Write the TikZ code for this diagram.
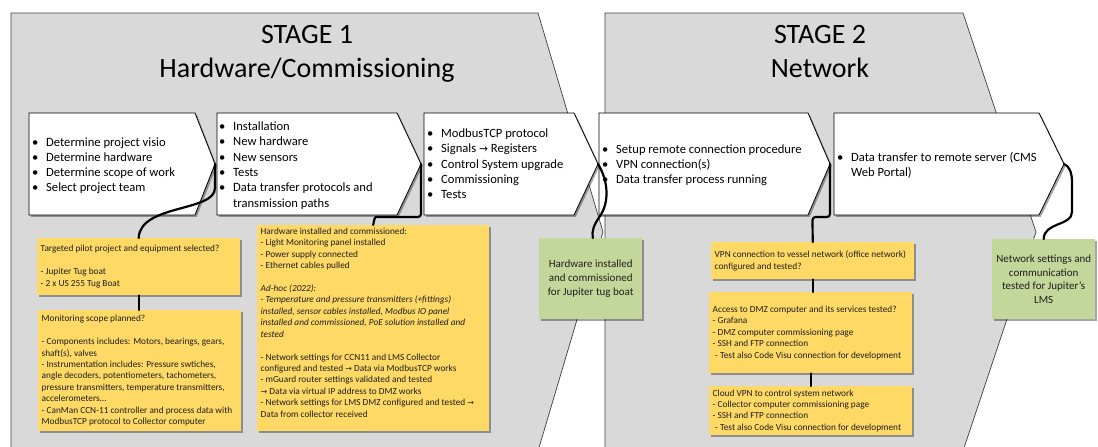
\documentclass[tikz,border=0pt]{standalone}
\usepackage{fontspec}
\setmainfont{Carlito}
\newfontfamily\arrowfont{DejaVu Sans}
\usetikzlibrary{shadows}

\definecolor{stagegray}{HTML}{D9D9D9}
\definecolor{stageline}{HTML}{3F3F3F}
\definecolor{noteyellow}{HTML}{FFD966}
\definecolor{notegreen}{HTML}{C4D79B}
\definecolor{inktext}{HTML}{1E1E1E}

\newcommand{\rarr}{{\arrowfont\fontsize{0.85em}{1em}\selectfont →}}
\newcommand{\bitem}{\makebox[14pt][l]{\textbullet}}
\newcommand{\bcont}{\hspace*{14pt}}
\newcommand{\blankline}{\mbox{}}

\begin{document}
\begin{tikzpicture}[x=1pt,y=-1pt,
  stageshape/.style={fill=stagegray,draw=stageline,line width=0.7pt},
  stagetitle/.style={anchor=base,inner sep=0pt,text=black,font=\fontsize{28}{34}\selectfont},
  stepshape/.style={fill=white,draw=black,line width=0.8pt,
    drop shadow={shadow xshift=1.8pt,shadow yshift=-1.8pt,opacity=0.35,fill=black}},
  steptext/.style={anchor=base west,inner sep=0pt,align=left,text=black,
    font=\fontsize{12.6}{15.3}\selectfont},
  note/.style={fill=noteyellow,draw=none,anchor=north west,inner sep=0pt,
    drop shadow={shadow xshift=1.8pt,shadow yshift=-1.8pt,opacity=0.35,fill=black}},
  notetext/.style={anchor=west,inner xsep=3.5pt,inner ysep=0pt,align=left,text=inktext,
    font=\fontsize{9.3}{11.44}\selectfont},
  milestone/.style={fill=notegreen,draw=none,anchor=north west,inner sep=0pt,
    align=center,text=inktext,font=\fontsize{11}{13.6}\selectfont,
    drop shadow={shadow xshift=1.8pt,shadow yshift=-1.8pt,opacity=0.35,fill=black}},
  link/.style={draw=black,line width=2.2pt,line cap=round,line join=round}]

\useasboundingbox (0,0) rectangle (1098,447);
\fill[white] (0,0) rectangle (1098,447);

% stage chevrons
\begin{scope}
  \clip (0,0) rectangle (1098,447);
  \draw[stageshape] (11,13) -- (538,13) -- (603,232) -- (538,451) -- (11,451) -- cycle;
  \draw[stageshape] (605,13) -- (963,13) -- (1036,232) -- (963,451) -- (605,451) -- cycle;
\end{scope}

\node[stagetitle] (s1a) at (307,43) {STAGE 1};
\node[stagetitle] (s1b) at (307,77) {Hardware/Commissioning};
\node[stagetitle] (s2a) at (820,43) {STAGE 2};
\node[stagetitle] (s2b) at (820,77) {Network};

% process steps
\draw[stepshape] (29,113) -- (195,113) -- (215,164) -- (195,215) -- (29,215) -- cycle;
\draw[stepshape] (217,113) -- (397,113) -- (421,164) -- (397,215) -- (217,215) -- cycle;
\draw[stepshape] (424,113) -- (574,113) -- (598,164) -- (574,215) -- (424,215) -- cycle;
\draw[stepshape] (599,113) -- (808,113) -- (830,164) -- (808,215) -- (599,215) -- cycle;
\draw[stepshape] (834,113) -- (1039,113) -- (1064,164) -- (1039,215) -- (834,215) -- cycle;
\coordinate (t1) at (215,164);
\coordinate (t2) at (421,164);
\coordinate (t3) at (598,164);
\coordinate (t4) at (830,164);
\coordinate (t5) at (1064,164);

% step texts (base anchor sits on the last line)
\node[steptext] (p1) at (32,191.9) {\bitem Determine project visio\\ \bitem Determine hardware\\
  \bitem Determine scope of work\\ \bitem Select project team};
\node[steptext] (p2) at (219,207) {\bitem Installation\\ \bitem New hardware\\ \bitem New sensors\\
  \bitem Tests\\ \bitem Data transfer protocols and\\ \bcont transmission paths};
\node[steptext] (p3) at (427,198.7) {\bitem ModbusTCP protocol\\ \bitem Signals \rarr{} Registers\\
  \bitem Control System upgrade\\ \bitem Commissioning\\ \bitem Tests};
\node[steptext] (p4) at (602,183.6) {\bitem Setup remote connection procedure\\
  \bitem VPN connection(s)\\ \bitem Data transfer process running};
\node[steptext] (p5) at (837,176.3) {\bitem Data transfer to remote server (CMS\\ \bcont Web Portal)};

% checklist notes
\node[note,minimum width=203pt,minimum height=57pt] (n1) at (37,238) {};
\node[notetext] (n1t) at (n1.west)
  {Targeted pilot project and equipment selected?\\ \blankline\\
   - Jupiter Tug boat\\ - 2 x US 255 Tug Boat};
\node[note,minimum width=203pt,minimum height=121pt] (n2) at (38,310) {};
\node[notetext] (n2t) at (n2.west)
  {Monitoring scope planned?\\ \blankline\\
   - Components includes: Motors, bearings, gears,\\ shaft(s), valves\\
   - Instrumentation includes: Pressure swtiches,\\ angle decoders, potentiometers, tachometers,\\
   pressure transmitters, temperature transmitters,\\ accelerometers…\\
   - CanMan CCN-11 controller and process data with\\ ModbusTCP protocol to Collector computer};
\node[note,minimum width=232pt,minimum height=206pt] (n3) at (257,225) {};
\node[notetext] (n3t) at ([yshift=5.7pt]n3.west)
  {Hardware installed and commissioned:\\ - Light Monitoring panel installed\\
   - Power supply connected\\ - Ethernet cables pulled\\ \blankline\\
   \textit{Ad-hoc (2022):}\\
   \textit{- Temperature and pressure transmitters (+fittings)}\\
   \textit{installed, sensor cables installed, Modbus IO panel}\\
   \textit{installed and commissioned, PoE solution installed and}\\
   \textit{tested}\\ \blankline\\
   - Network settings for CCN11 and LMS Collector\\
   configured and tested \rarr{} Data via ModbusTCP works\\
   - mGuard router settings validated and tested\\
   \rarr{} Data via virtual IP address to DMZ works\\
   - Network settings for LMS DMZ configured and tested \rarr\\
   Data from collector received};
\node[note,minimum width=203pt,minimum height=37pt] (n4) at (711,242) {};
\node[notetext] (n4t) at (n4.west)
  {VPN connection to vessel network (office network)\\ configured and tested?};
\node[note,minimum width=203pt,minimum height=81pt] (n5) at (709,292) {};
\node[notetext] (n5t) at (n5.west)
  {Access to DMZ computer and its services tested?\\ - Grafana\\
   - DMZ computer commissioning page\\ - SSH and FTP connection\\
   \hspace*{2.5pt}- Test also Code Visu connection for development};
\node[note,minimum width=203pt,minimum height=49pt] (n6) at (709,386) {};
\node[notetext] (n6t) at (n6.west)
  {Cloud VPN to control system network\\ - Collector computer commissioning page\\
   - SSH and FTP connection\\
   \hspace*{2.5pt}- Test also Code Visu connection for development};

% milestones
\node[milestone,minimum width=103pt,minimum height=81pt] (g1) at (539,238)
  {Hardware installed\\ and commissioned\\ for Jupiter tug boat};
\node[milestone,minimum width=103pt,minimum height=80pt] (g2) at (992,239)
  {Network settings and\\ communication\\ tested for Jupiter’s\\ LMS};

% connectors
\draw[link] (t1) -- (215,188) .. controls (215,212) and (140,204) .. (n1.north);
\draw[link] (n1.south) -- (n1.south |- n2.north);
\draw[link,rounded corners=3pt] (t2) |- (379,217) .. controls (375,217) and (374,220) .. (n3.north);
\draw[link] (t3) .. controls (609,182) and (609,203) .. (600,216)
  .. controls (593,226) and (592,231) .. ([xshift=2pt]g1.north);
\draw[link,rounded corners=3pt] (t4) |- (812.5,217) -- (n4.north);
\draw[link] (n4.south) -- (n4.south |- n5.north);
\draw[link] (n5.south) -- (n6.north);
\draw[link] (t5) .. controls (1069,166) and (1072,172) .. (1072,182) -- (1072,212)
  .. controls (1072,226) and (1044,222) .. (g2.north);
\end{tikzpicture}
\end{document}
